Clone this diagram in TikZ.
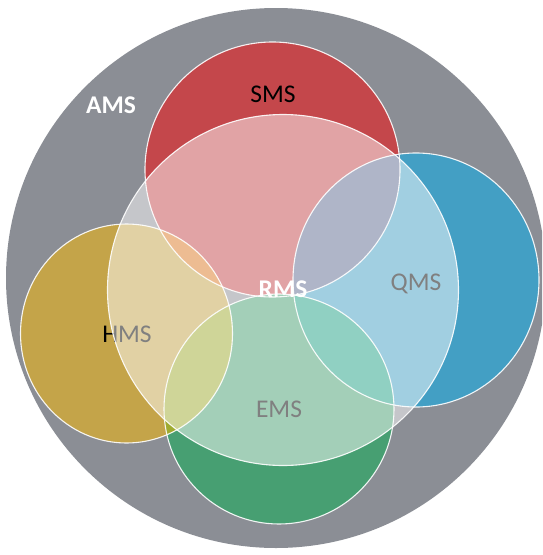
\documentclass[tikz,border=0pt]{standalone}
\usepackage{fontspec}
\setmainfont{Carlito}
% set colours
\definecolor{amsgray}{RGB}{139,142,149}
\definecolor{smsred}{RGB}{196,71,75}
\definecolor{qmsblue}{RGB}{67,159,196}
\definecolor{hmsgold}{RGB}{196,164,73}
\definecolor{emsgreen}{RGB}{71,159,114}
% overlap colours
\definecolor{sqmix}{RGB}{95,107,145}
\definecolor{shmix}{RGB}{219,122,38}
\definecolor{hemix}{RGB}{159,171,49}
\definecolor{qemix}{RGB}{33,161,133}
\begin{document}
\begin{tikzpicture}[x=1pt,y=-1pt,
  rim/.style={draw=white, line width=1.1pt, draw opacity=0.9},
  lbl/.style={font=\fontsize{25.5}{30}\selectfont, anchor=base, inner sep=0pt, text=black},
  lblbold/.style={font=\fontsize{25.5}{30}\selectfont\bfseries, anchor=base, inner sep=0pt, text=white}]
\useasboundingbox (0,0) rectangle (542,555);
\clip (0,0) rectangle (542,555);
% centres of the systems
\coordinate (cA) at (276,278);
\coordinate (cS) at (272.5,169.5);
\coordinate (cQ) at (416,280);
\coordinate (cH) at (126.5,333.5);
\coordinate (cE) at (279,409);
\coordinate (cR) at (283,290);
% system outlines as reusable paths
\def\pathS{(cS) circle (127.5pt)}
\def\pathQ{(cQ) ellipse [x radius=123pt, y radius=127pt]}
\def\pathH{(cH) ellipse [x radius=106pt, y radius=109.5pt]}
\def\pathE{(cE) circle (115pt)}
% outer system
\fill[amsgray] (cA) circle (270pt);
% member systems
\fill[smsred] \pathS;
\fill[qmsblue] \pathQ;
\fill[hmsgold] \pathH;
\fill[emsgreen] \pathE;
% overlaps
\begin{scope}
  \clip \pathS;
  \fill[sqmix] \pathQ;
  \fill[shmix] \pathH;
\end{scope}
\begin{scope}
  \clip \pathE;
  \fill[hemix] \pathH;
  \fill[qemix] \pathQ;
\end{scope}
% outlines
\draw[rim] \pathS;
\draw[rim] \pathQ;
\draw[rim] \pathH;
\draw[rim] \pathE;
% labels under the shared layer
\node[lbl] (tS) at (273,102) {SMS};
\node[lbl] (tQ) at (416,290) {QMS};
\node[lbl] (tH) at (127,342) {HMS};
\node[lbl] (tE) at (279,417) {EMS};
% shared layer
\fill[white, fill opacity=0.5] (cR) circle (175.5pt);
\draw[rim] (cR) circle (175.5pt);
% top labels
\node[lblbold] (tR) at (283,297) {RMS};
\node[lblbold] (tA) at (111,113) {AMS};
\end{tikzpicture}
\end{document}
